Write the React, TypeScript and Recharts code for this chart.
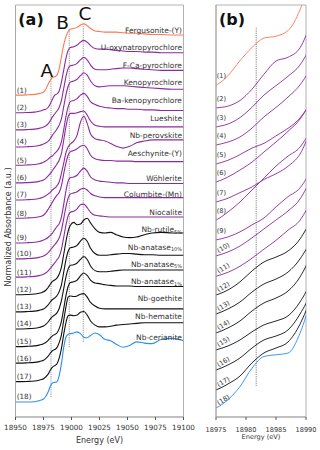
import React from 'react';
import {
  LineChart,
  Line,
  XAxis,
  YAxis,
  ReferenceLine,
  ReferenceDot,
  ReferenceArea
} from 'recharts';

// energy grid (eV) shared by every spectrum
const energy = [
  18950, 18960, 18967, 18971, 18973, 18975, 18977, 18979, 18981, 18983, 18985, 18987, 18989,
  18991, 18993, 18995, 18997, 18999, 19002, 19005, 19008, 19011, 19014, 19017, 19021, 19025,
  19030, 19035, 19040, 19046, 19052, 19058, 19065, 19072, 19080, 19090, 19100
];

// normalized absorbance, one list per sample
const fergusonite = [0, 0.004, 0.012, 0.025, 0.035, 0.05, 0.10, 0.18, 0.25, 0.30, 0.31, 0.34, 0.45, 0.65, 0.85, 0.99, 1.08, 1.12, 1.13, 1.15, 1.19, 1.21, 1.18, 1.13, 1.09, 1.08, 1.07, 1.07, 1.07, 1.06, 1.05, 1.05, 1.04, 1.03, 1.03, 1.02, 1.02];
const uOxynatropyrochlore = [0, 0.004, 0.012, 0.025, 0.035, 0.05, 0.06, 0.09, 0.15, 0.23, 0.30, 0.32, 0.37, 0.52, 0.72, 0.92, 1.06, 1.11, 1.12, 1.15, 1.20, 1.23, 1.20, 1.14, 1.09, 1.08, 1.08, 1.07, 1.06, 1.05, 1.04, 1.04, 1.03, 1.03, 1.02, 1.02, 1.02];
const fCaPyrochlore = [0, 0.004, 0.012, 0.025, 0.035, 0.05, 0.066, 0.10, 0.155, 0.22, 0.27, 0.32, 0.38, 0.50, 0.70, 0.90, 1.04, 1.09, 1.10, 1.13, 1.19, 1.23, 1.19, 1.10, 1.03, 1.02, 1.02, 1.03, 1.04, 1.05, 1.05, 1.04, 1.03, 1.02, 1.01, 1.01, 1.01];
const kenopyrochlore = [0, 0.004, 0.012, 0.025, 0.035, 0.05, 0.066, 0.093, 0.14, 0.20, 0.25, 0.305, 0.37, 0.48, 0.68, 0.88, 1.03, 1.10, 1.12, 1.15, 1.21, 1.26, 1.22, 1.12, 1.04, 1.02, 1.03, 1.04, 1.04, 1.04, 1.03, 1.02, 1.01, 1.0, 0.99, 0.98, 0.98];
const baKenopyrochlore = [0, 0.004, 0.012, 0.025, 0.035, 0.05, 0.07, 0.10, 0.135, 0.16, 0.20, 0.24, 0.295, 0.40, 0.60, 0.82, 0.99, 1.08, 1.10, 1.13, 1.19, 1.22, 1.17, 1.08, 1.03, 1.00, 0.98, 0.97, 0.96, 0.96, 0.95, 0.95, 0.94, 0.94, 0.93, 0.93, 0.93];
const lueshite = [0, 0.004, 0.012, 0.025, 0.035, 0.05, 0.077, 0.114, 0.156, 0.21, 0.263, 0.32, 0.385, 0.50, 0.72, 0.95, 1.12, 1.18, 1.18, 1.19, 1.21, 1.22, 1.15, 1.05, 0.98, 0.96, 0.95, 0.95, 0.95, 0.95, 0.95, 0.95, 0.95, 0.95, 0.95, 0.95, 0.95];
const nbPerovskite = [0, 0.004, 0.012, 0.025, 0.035, 0.05, 0.07, 0.10, 0.13, 0.17, 0.20, 0.24, 0.305, 0.45, 0.62, 0.80, 0.90, 0.95, 1.00, 1.10, 1.32, 1.42, 1.30, 1.12, 1.04, 1.02, 1.00, 0.96, 0.91, 0.88, 0.91, 0.97, 1.00, 1.02, 1.02, 1.02, 1.02];
const aeschynite = [0, 0.004, 0.012, 0.025, 0.035, 0.05, 0.093, 0.146, 0.21, 0.273, 0.337, 0.39, 0.438, 0.55, 0.75, 0.93, 1.07, 1.13, 1.15, 1.18, 1.22, 1.24, 1.18, 1.07, 1.01, 0.99, 0.98, 0.98, 0.97, 0.97, 0.97, 0.96, 0.96, 0.96, 0.96, 0.96, 0.96];
const wohlerite = [0, 0.004, 0.012, 0.025, 0.035, 0.05, 0.066, 0.093, 0.13, 0.167, 0.226, 0.28, 0.327, 0.44, 0.65, 0.88, 1.05, 1.11, 1.12, 1.15, 1.22, 1.27, 1.22, 1.12, 1.07, 1.05, 1.04, 1.03, 1.02, 1.02, 1.01, 1.01, 1.01, 1.01, 1.01, 1.01, 1.01];
const columbite = [0, 0.004, 0.012, 0.025, 0.035, 0.05, 0.071, 0.103, 0.146, 0.194, 0.241, 0.289, 0.353, 0.48, 0.68, 0.88, 1.03, 1.10, 1.12, 1.14, 1.18, 1.20, 1.17, 1.11, 1.07, 1.05, 1.04, 1.04, 1.04, 1.04, 1.04, 1.04, 1.04, 1.04, 1.04, 1.04, 1.04];
const niocalite = [0, 0.004, 0.012, 0.025, 0.035, 0.05, 0.071, 0.103, 0.146, 0.194, 0.241, 0.295, 0.348, 0.47, 0.67, 0.88, 1.04, 1.10, 1.12, 1.16, 1.23, 1.24, 1.18, 1.10, 1.05, 1.04, 1.03, 1.02, 1.02, 1.02, 1.02, 1.02, 1.02, 1.02, 1.02, 1.02, 1.02];
const nbRutile = [0, 0.004, 0.012, 0.025, 0.035, 0.05, 0.077, 0.12, 0.178, 0.226, 0.252, 0.284, 0.348, 0.47, 0.68, 0.90, 1.08, 1.18, 1.23, 1.19, 1.20, 1.27, 1.30, 1.22, 1.12, 1.06, 1.05, 1.06, 1.02, 0.98, 0.97, 0.98, 1.02, 1.05, 1.06, 1.05, 1.05];
const nbAnatase10 = [0, 0.004, 0.012, 0.025, 0.035, 0.05, 0.077, 0.114, 0.167, 0.21, 0.236, 0.273, 0.343, 0.46, 0.67, 0.88, 1.03, 1.09, 1.10, 1.13, 1.20, 1.25, 1.20, 1.08, 0.99, 0.96, 0.96, 0.97, 0.98, 0.99, 0.99, 0.98, 0.97, 0.97, 0.96, 0.96, 0.96];
const nbAnatase5 = [0, 0.004, 0.012, 0.025, 0.035, 0.05, 0.077, 0.114, 0.167, 0.21, 0.236, 0.273, 0.348, 0.48, 0.68, 0.88, 1.02, 1.08, 1.09, 1.12, 1.18, 1.23, 1.18, 1.07, 0.99, 0.97, 0.97, 0.98, 0.99, 1.00, 1.00, 1.00, 1.00, 1.00, 1.00, 1.00, 1.00];
const nbAnatase1 = [0, 0.004, 0.012, 0.025, 0.035, 0.05, 0.071, 0.103, 0.146, 0.183, 0.204, 0.231, 0.305, 0.43, 0.64, 0.86, 1.02, 1.09, 1.10, 1.13, 1.20, 1.25, 1.21, 1.13, 1.08, 1.07, 1.05, 1.04, 1.03, 1.03, 1.03, 1.02, 1.02, 1.02, 1.02, 1.02, 1.02];
const nbGoethite = [0, 0.004, 0.012, 0.025, 0.035, 0.05, 0.077, 0.114, 0.167, 0.21, 0.231, 0.263, 0.348, 0.48, 0.72, 0.95, 1.12, 1.14, 1.13, 1.14, 1.17, 1.18, 1.12, 1.03, 0.97, 0.93, 0.92, 0.92, 0.92, 0.92, 0.92, 0.92, 0.92, 0.92, 0.92, 0.92, 0.92];
const nbHematite = [0, 0.004, 0.012, 0.025, 0.035, 0.05, 0.082, 0.124, 0.194, 0.247, 0.273, 0.305, 0.40, 0.56, 0.80, 1.00, 1.12, 1.13, 1.12, 1.13, 1.18, 1.19, 1.13, 1.03, 0.96, 0.93, 0.93, 0.94, 0.96, 0.97, 0.98, 0.99, 1.00, 1.00, 1.00, 1.00, 1.00];
const nbCerianite = [0, 0, 0.005, 0.02, 0.035, 0.05, 0.094, 0.164, 0.262, 0.324, 0.333, 0.342, 0.448, 0.65, 0.92, 1.10, 1.15, 1.16, 1.17, 1.19, 1.16, 1.10, 1.09, 1.13, 1.17, 1.14, 1.06, 1.04, 0.98, 0.93, 0.96, 1.02, 1.00, 0.99, 1.06, 1.08, 1.04];

const spectra = [
  fergusonite, uOxynatropyrochlore, fCaPyrochlore, kenopyrochlore, baKenopyrochlore, lueshite,
  nbPerovskite, aeschynite, wohlerite, columbite, niocalite, nbRutile, nbAnatase10, nbAnatase5,
  nbAnatase1, nbGoethite, nbHematite, nbCerianite
];

const sampleNames = [
  'Fergusonite-(Y)', 'U-oxynatropyrochlore', 'F-Ca-pyrochlore', 'Kenopyrochlore', 'Ba-kenopyrochlore',
  'Lueshite', 'Nb-perovskite', 'Aeschynite-(Y)', 'Wöhlerite', 'Columbite-(Mn)', 'Niocalite',
  'Nb-rutile', 'Nb-anatase', 'Nb-anatase', 'Nb-anatase', 'Nb-goethite', 'Nb-hematite', 'Nb-cerianite'
];
const sampleSubscripts = ['', '', '', '', '', '', '', '', '', '', '', '5%', '10%', '5%', '1%', '', '', ''];

// vertical stacking offsets for the two panels
const offsetsA = [5.21, 4.91, 4.62, 4.33, 4.02, 3.72, 3.43, 3.12, 2.70, 2.43, 2.12, 1.82, 1.53, 1.24, 0.94, 0.66, 0.345, 0];
const offsetsB = [1.487, 1.365, 1.264, 1.168, 1.067, 0.971, 0.865, 0.769, 0.663, 0.578, 0.47, 0.37, 0.269, 0.168, 0.078, -0.029, -0.135, -0.231];

const ticksA = [18950, 18975, 19000, 19025, 19050, 19075, 19100];
const ticksB = [18975, 18980, 18985, 18990];
const yTicksA = [0, 1, 2, 3, 4, 5, 6];
const yTicksB = [0, 0.25, 0.5, 0.75, 1, 1.25, 1.5, 1.75];

// edge features A, B, C (eV)
const featureLetters = ['A', 'B', 'C'];
const featureEnergy = [18981.7, 18998, 19010.5];

const FONT = "'DejaVu Sans', sans-serif";
const FRAME = '#a8a8a8';
const TEXT = '#333';
const yDomainA = [-0.255, 6.74];
const yDomainB = [-0.229, 1.963];

const lineColor = (k: number) =>
  k === 0 ? '#fb7a55' : k <= 10 ? '#8e2a9e' : k <= 16 ? '#111111' : '#2b8ff0';

const rows = energy.map((e, i) => {
  const row: Record<string, number> = { e };
  spectra.forEach((s, k) => {
    row[`a${k}`] = s[i] + offsetsA[k];
    row[`b${k}`] = s[i] + offsetsB[k];
  });
  return row;
});
const rowsB = rows.filter(r => r.e >= 18971 && r.e <= 18993);
const startB = energy.indexOf(18975);

const textShape = (content: React.ReactNode, dx: number, dy: number, extra: any = {}) => (p: any) => (
  <text
    x={p.cx + dx}
    y={p.cy + dy}
    fill={TEXT}
    stroke="none"
    dominantBaseline="central"
    {...extra}
  >
    {content}
  </text>
);

// features A/B/C: dashed line extents and letter placement (data units)
const featureLineA = [[0.085, 5.52], [0.93, 6.35], [1.02, 6.4]];
const featureLetterA = [[18977.9, 5.63], [18992.1, 6.44], [19012.1, 6.6]];

const PanelA = () => (
  <LineChart width={200} height={450} data={rows} margin={{ top: 5, right: 16.5, bottom: 3, left: 12.5 }}>
    <ReferenceArea x1={18950} x2={19100} y1={yDomainA[0]} y2={yDomainA[1]} fill="none" stroke={FRAME} strokeWidth={0.9} ifOverflow="visible" />
    <XAxis
      dataKey="e"
      type="number"
      domain={[18950, 19100]}
      ticks={ticksA}
      interval={0}
      allowDataOverflow
      height={30}
      tickSize={3}
      tickMargin={5}
      axisLine={{ stroke: FRAME }}
      tickLine={{ stroke: '#555' }}
      tick={{ fontSize: 7.2, fill: TEXT }}
      label={{ value: 'Energy (eV)', position: 'insideBottom', offset: 4, fontSize: 8, fill: TEXT }}
    />
    <YAxis
      type="number"
      domain={yDomainA}
      ticks={yTicksA}
      allowDataOverflow
      width={3}
      tickSize={3}
      tick={false}
      axisLine={{ stroke: FRAME }}
      tickLine={{ stroke: '#555' }}
    />
    {featureEnergy.map((x, i) => (
      <ReferenceLine
        key={`fl${i}`}
        segment={[{ x, y: featureLineA[i][0] }, { x, y: featureLineA[i][1] }]}
        stroke="#666"
        strokeWidth={0.7}
        strokeDasharray="1.2 1"
        ifOverflow="visible"
      />
    ))}
    {spectra.map((_, k) => (
      <Line
        key={`a${k}`}
        dataKey={`a${k}`}
        type="monotone"
        stroke={lineColor(k)}
        strokeWidth={1.1}
        dot={false}
        isAnimationActive={false}
      />
    ))}
    {sampleNames.map((name, k) => (
      <ReferenceDot
        key={`n${k}`}
        x={19100}
        y={offsetsA[k] + 1.1}
        ifOverflow="visible"
        shape={textShape(
          <>
            {name}
            {sampleSubscripts[k] && <tspan fontSize={5} dy={1.8}>{sampleSubscripts[k]}</tspan>}
          </>,
          -1.5,
          0,
          { textAnchor: 'end', fontSize: 7.5 }
        )}
      />
    ))}
    {sampleNames.map((_, k) => (
      <ReferenceDot
        key={`i${k}`}
        x={18950}
        y={offsetsA[k] + 0.085}
        ifOverflow="visible"
        shape={textShape(`(${k + 1})`, 1.2, 0, { textAnchor: 'start', fontSize: 7.2 })}
      />
    ))}
    {featureLetters.map((l, i) => (
      <ReferenceDot
        key={`L${i}`}
        x={featureLetterA[i][0]}
        y={featureLetterA[i][1]}
        ifOverflow="visible"
        shape={textShape(l, 0, 0, { textAnchor: 'middle', fontSize: 18.5, fill: '#111' })}
      />
    ))}
  </LineChart>
);

const PanelB = () => (
  <LineChart width={130} height={450} data={rowsB} margin={{ top: 5, right: 14, bottom: 3, left: 23 }}>
    <ReferenceArea x1={18975} x2={18990} y1={yDomainB[0]} y2={yDomainB[1]} fill="none" stroke={FRAME} strokeWidth={0.9} ifOverflow="visible" />
    <XAxis
      dataKey="e"
      type="number"
      domain={[18975, 18990]}
      ticks={ticksB}
      interval={0}
      allowDataOverflow
      height={30}
      tickSize={3}
      tickMargin={7}
      axisLine={{ stroke: FRAME }}
      tickLine={{ stroke: '#555' }}
      tick={{ fontSize: 6.6, fill: TEXT }}
      label={{ value: 'Energy (eV)', position: 'insideBottom', offset: 8, fontSize: 6.6, fill: TEXT }}
    />
    <YAxis
      type="number"
      domain={yDomainB}
      ticks={yTicksB}
      allowDataOverflow
      width={3}
      tickSize={3}
      tick={false}
      axisLine={{ stroke: FRAME }}
      tickLine={{ stroke: '#555' }}
    />
    <ReferenceLine
      segment={[{ x: featureEnergy[0], y: -0.064 }, { x: featureEnergy[0], y: 1.846 }]}
      stroke="#666"
      strokeWidth={0.8}
      strokeDasharray="1.2 1"
      ifOverflow="visible"
    />
    {spectra.map((_, k) => (
      <Line
        key={`b${k}`}
        dataKey={`b${k}`}
        type="monotone"
        stroke={lineColor(k)}
        strokeWidth={0.9}
        dot={false}
        isAnimationActive={false}
      />
    ))}
    {spectra.map((s, k) => (
      <ReferenceDot
        key={`j${k}`}
        x={18975}
        y={s[startB] + offsetsB[k]}
        ifOverflow="visible"
        shape={
          k < 9
            ? textShape(`(${k + 1})`, 0.8, -9, { textAnchor: 'start', fontSize: 6.6 })
            : (p: any) => (
                <text
                  x={p.cx + 7.5}
                  y={p.cy - 8}
                  fill={TEXT}
                  stroke="none"
                  fontSize={6.6}
                  textAnchor="middle"
                  dominantBaseline="central"
                  transform={`rotate(-32 ${p.cx + 7.5} ${p.cy - 8})`}
                >
                  {`(${k + 1})`}
                </text>
              )
        }
      />
    ))}
  </LineChart>
);

export default function App() {
  return (
    <div style={{ position: 'absolute', left: 0, top: 0, width: 320, height: 450, background: '#fff', fontFamily: FONT }}>
      <div style={{ position: 'absolute', left: 0, top: 0 }}>
        <PanelA />
      </div>
      <div style={{ position: 'absolute', left: 190, top: 0 }}>
        <PanelB />
      </div>
      <svg width={320} height={450} style={{ position: 'absolute', left: 0, top: 0, pointerEvents: 'none' }}>
        <text
          x={8.5}
          y={227}
          fontSize={8}
          fill={TEXT}
          textAnchor="middle"
          dominantBaseline="central"
          transform="rotate(-90 8.5 227)"
        >
          Normalized Absorbance (a.u.)
        </text>
        <text x={18.3} y={19} fontSize={16} fontWeight="bold" fill="#111" dominantBaseline="central">(a)</text>
        <text x={219} y={19} fontSize={16} fontWeight="bold" fill="#111" dominantBaseline="central">(b)</text>
      </svg>
    </div>
  );
}
